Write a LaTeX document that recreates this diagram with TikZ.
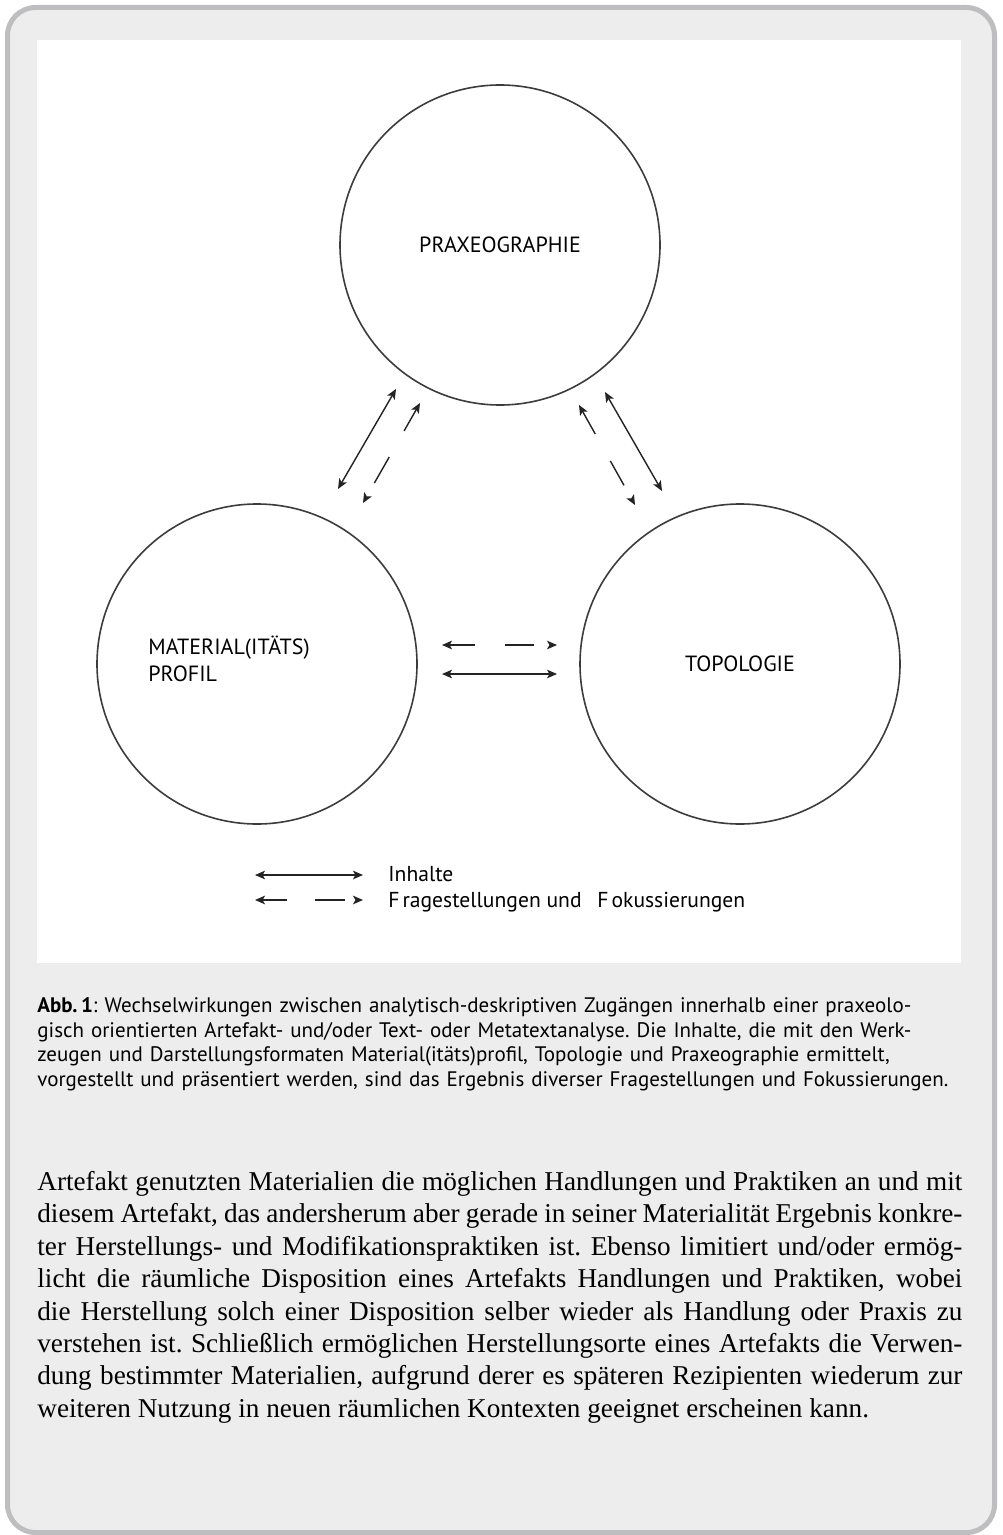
\documentclass[tikz,border=0pt]{standalone}
\usepackage{fontspec}
\setmainfont{Liberation Serif}
\newfontfamily\figfont{PT Sans}
\usetikzlibrary{arrows.meta}
\definecolor{boxfill}{RGB}{237,237,237}
\definecolor{boxline}{RGB}{190,190,192}
\definecolor{zoneline}{RGB}{60,60,60}
\definecolor{linkline}{RGB}{35,35,35}
\tikzstyle{zone}=[draw=zoneline, line width=0.8pt, circle, minimum size=160pt, inner sep=0pt,
  font=\figfont\fontsize{11}{13.5}\selectfont]
\tikzstyle{zonetext}=[inner sep=0pt, font=\figfont\fontsize{11}{13.5}\selectfont]
\tikzstyle{link}=[draw=linkline, line width=0.7pt,
  {Stealth[length=5pt,width=4.3pt,inset=1.2pt]}-{Stealth[length=5pt,width=4.3pt,inset=1.2pt]}]
\tikzstyle{legendtext}=[inner sep=0pt, anchor=base west, font=\figfont\fontsize{10.8}{12}\selectfont]

\begin{document}
\begin{tikzpicture}[x=0.5pt, y=-0.5pt]
            \useasboundingbox (0,0) rectangle (1002,1535);
            \draw[boxline, fill=boxfill, line width=2.5pt, rounded corners=14pt]
                (7.5,7.5) rectangle (994.5,1532.5);
            \fill[white] (37,40) rectangle (961,963);

            \node[zone] (praxeo) at (500,245) {PRAXEOGRAPHIE};
            \node[zone] (material) at (257,664) {};
            \node[zone] (topo) at (740,664) {TOPOLOGIE};
            \node[zonetext, anchor=west, align=left] (materialtext) at (148,659)
                {MATERIAL(ITÄTS)\\PROFIL};

            \coordinate (mp1) at (338,489);
            \coordinate (mp2) at (396,389);
            \coordinate (mp3) at (420,403);
            \coordinate (mp4) at (363,503);
            \draw[link] (mp1) -- (mp2);
            \draw[link, dash pattern=on 12.5pt off 15pt on 15pt off 20pt] (mp3) -- (mp4);

            \coordinate (pt1) at (605,392);
            \coordinate (pt2) at (662,491);
            \coordinate (pt3) at (579,405);
            \coordinate (pt4) at (635,505);
            \draw[link] (pt1) -- (pt2);
            \draw[link, dash pattern=on 13pt off 15.5pt on 14pt off 20pt] (pt3) -- (pt4);

            \coordinate (mt1) at (442,645);
            \coordinate (mt2) at (557,645);
            \coordinate (mt3) at (442,674);
            \coordinate (mt4) at (557,674);
            \draw[link, dash pattern=on 13pt off 15pt on 14.5pt off 20pt] (mt1) -- (mt2);
            \draw[link] (mt3) -- (mt4);

            \coordinate (lg1) at (255,875);
            \coordinate (lg2) at (363,875);
            \coordinate (lg3) at (255,900);
            \coordinate (lg4) at (363,900);
            \draw[link] (lg1) -- (lg2);
            \draw[link, dash pattern=on 12.5pt off 14pt on 15pt off 20pt] (lg3) -- (lg4);
            \node[legendtext] (inhalte) at (388,881) {Inhalte};
            \node[legendtext] (fragen) at (388,907)
                {F\hspace{1.5pt}ragestellungen und\hspace{5pt} F\hspace{1.5pt}okussierungen};

            \node[inner sep=0pt, anchor=north west, text width=462pt, align=left,
                font=\figfont\fontsize{10.5}{12.4}\selectfont] (caption) at (37,997)
                {\frenchspacing\textbf{Abb.\,1}: Wechselwirkungen zwischen analytisch-deskriptiven Zugängen innerhalb einer praxeolo-\\
                gisch orientierten Artefakt- und/oder Text- oder Metatextanalyse. Die Inhalte, die mit den Werk-\\
                zeugen und Darstellungsformaten Material(itäts)profil, Topologie und Praxeographie ermittelt,\\
                vorgestellt und präsentiert werden, sind das Ergebnis diverser Fragestellungen und Fokussierungen.};

            \node[inner sep=0pt, anchor=north west, text width=462.5pt, align=justify,
                font=\fontsize{13.6}{16.2}\selectfont] (bodytext) at (37,1171)
                {\frenchspacing\tolerance=9999 Artefakt genutzten Materialien die möglichen Handlungen und Praktiken an und mit\linebreak
                diesem Artefakt, das andersherum aber gerade in seiner Materialität Ergebnis konkre-\linebreak
                ter Herstellungs- und Modifikationspraktiken ist. Ebenso limitiert und/oder ermög-\linebreak
                licht die räumliche Disposition eines Artefakts Handlungen und Praktiken, wobei\linebreak
                die Herstellung solch einer Disposition selber wieder als Handlung oder Praxis zu\linebreak
                verstehen ist. Schließlich ermöglichen Herstellungsorte eines Artefakts die Verwen-\linebreak
                dung bestimmter Materialien, aufgrund derer es späteren Rezipienten wiederum zur\linebreak
                weiteren Nutzung in neuen räumlichen Kontexten geeignet erscheinen kann.};
        \end{tikzpicture}
\end{document}
